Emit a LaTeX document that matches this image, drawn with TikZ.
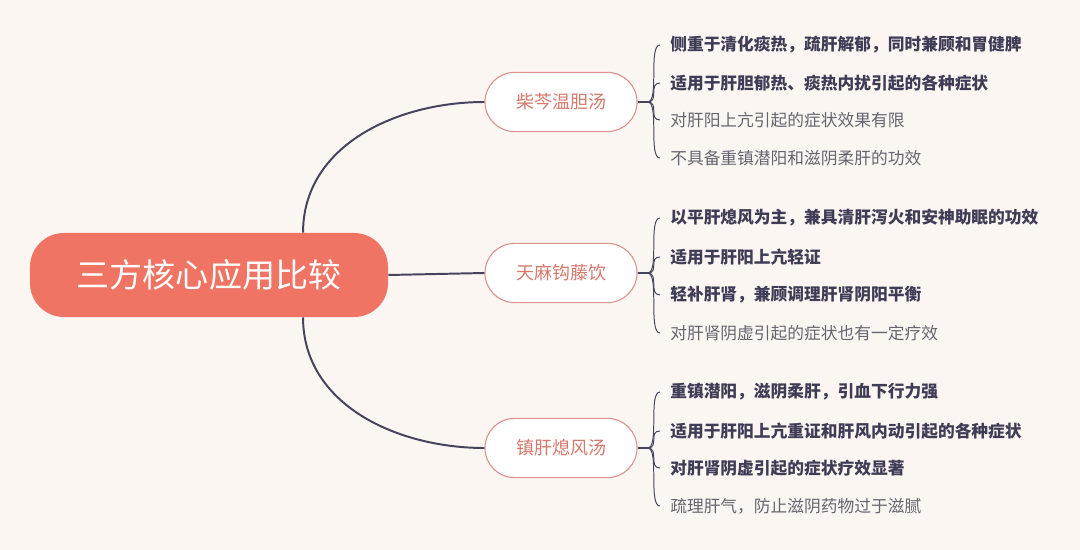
\documentclass[tikz,border=0pt]{standalone}
\usepackage{fontspec}
\setmainfont{Noto Sans CJK SC}
\usepackage{xcolor}
\usetikzlibrary{positioning,calc}
\definecolor{bgcolor}{HTML}{FCF6F3}
\definecolor{rootcolor}{HTML}{EF7464}
\definecolor{branchline}{HTML}{D9948E}
\definecolor{branchtext}{HTML}{D6796D}
\definecolor{linkcolor}{HTML}{46435F}
\definecolor{keytext}{HTML}{3F3C56}
\definecolor{minortext}{HTML}{67646F}

\begin{document}
\begin{tikzpicture}[
    x=0.025cm, y=-0.025cm,
    every node/.style={inner sep=0pt},
    root/.style={fill=rootcolor, rounded corners=0.85cm, minimum width=8.95cm,
      minimum height=2.1cm, text=white, font=\fontsize{23.5}{28}\selectfont},
    branch/.style={draw=branchline, line width=0.8pt, fill=white, rounded corners=0.74cm,
      minimum width=3.8cm, minimum height=1.48cm, text=branchtext,
      font=\fontsize{12.8}{15}\selectfont},
    keypt/.style={anchor=west, inner xsep=0.25cm, text=keytext,
      font=\fontsize{11.9}{14}\selectfont\bfseries},
    minorpt/.style={anchor=west, inner xsep=0.25cm, text=minortext,
      font=\fontsize{11.9}{14}\selectfont},
    link/.style={draw=linkcolor, line width=1.4pt},
    twig/.style={draw=linkcolor, line width=0.7pt, out=0, in=180, distance=0.3cm}
  ]
    % page
    \fill[bgcolor] (0,0) rectangle (1080,550);
    % central topic
    \node[root] (root) at (209,275) {三方核心应用比较};
    % the three formulas
    \node[branch] (b1) at (561,102) {柴芩温胆汤};
    \node[branch] (b2) at (561,273) {天麻钩藤饮};
    \node[branch] (b3) at (561,448) {镇肝熄风汤};
    \draw[link] ([xshift=2.35cm]root.north) to[out=90, in=180] (b1.west);
    \draw[link] (root.east) -- (b2.west);
    \draw[link] ([xshift=2.35cm]root.south) to[out=-90, in=180] (b3.west);
    % points of 柴芩温胆汤
    \node[keypt]   (p11) at (660,45)  {侧重于清化痰热，疏肝解郁，同时兼顾和胃健脾};
    \node[keypt]   (p12) at (660,83)  {适用于肝胆郁热、痰热内扰引起的各种症状};
    \node[minorpt] (p13) at (660,120) {对肝阳上亢引起的症状效果有限};
    \node[minorpt] (p14) at (660,158) {不具备重镇潜阳和滋阴柔肝的功效};
    % points of 天麻钩藤饮
    \node[keypt]   (p21) at (660,218) {以平肝熄风为主，兼具清肝泻火和安神助眠的功效};
    \node[keypt]   (p22) at (660,257) {适用于肝阳上亢轻证};
    \node[keypt]   (p23) at (660,295) {轻补肝肾，兼顾调理肝肾阴阳平衡};
    \node[minorpt] (p24) at (660,333) {对肝肾阴虚引起的症状也有一定疗效};
    % points of 镇肝熄风汤
    \node[keypt]   (p31) at (660,392) {重镇潜阳，滋阴柔肝，引血下行力强};
    \node[keypt]   (p32) at (660,431) {适用于肝阳上亢重证和肝风内动引起的各种症状};
    \node[keypt]   (p33) at (660,468) {对肝肾阴虚引起的症状疗效显著};
    \node[minorpt] (p34) at (660,506) {疏理肝气，防止滋阴药物过于滋腻};
    % brace-like twigs
    \foreach \b in {1,2,3}{
      \coordinate (h\b) at ([xshift=0.25cm]b\b.east);
      \draw[link, line width=1pt] (b\b.east) -- (h\b);
      \foreach \p in {1,2,3,4}
        \draw[twig] (h\b) to (p\b\p.west);
    }
\end{tikzpicture}
\end{document}
